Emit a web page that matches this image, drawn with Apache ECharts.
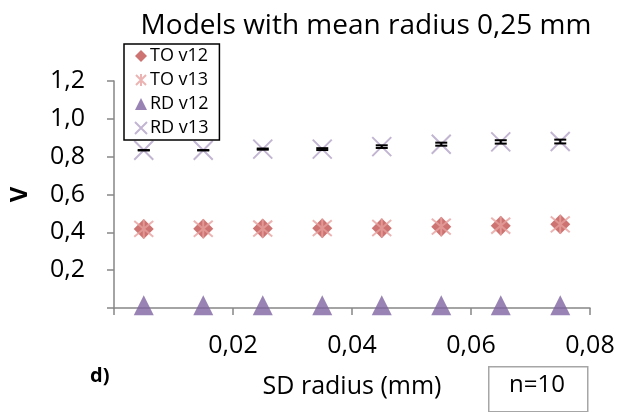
<!DOCTYPE html>
<html>
<head>
<meta charset="utf-8">
<script src="https://cdn.jsdelivr.net/npm/echarts@6/dist/echarts.min.js"></script>
<style>
  body { margin: 0; background: #fff; }
  #chart { width: 630px; height: 412px; }
</style>
</head>
<body>
<div id="chart"></div>
<script>
// x positions (SD radius, mm)
var sdRadius = [0.005, 0.015, 0.025, 0.035, 0.045, 0.055, 0.065, 0.075];
var toV12 = [0.418, 0.419, 0.420, 0.422, 0.422, 0.430, 0.435, 0.443];
var toV13 = [0.418, 0.419, 0.420, 0.422, 0.423, 0.430, 0.435, 0.442];
var rdV12 = [0.015, 0.015, 0.015, 0.015, 0.015, 0.015, 0.015, 0.015];
var rdV13 = [0.834, 0.834, 0.840, 0.840, 0.853, 0.866, 0.878, 0.880];
var rdV13Err = [0.001, 0.001, 0.003, 0.005, 0.007, 0.008, 0.009, 0.010];
var xTicks = [0.02, 0.04, 0.06, 0.08];
var yTicks = [0.2, 0.4, 0.6, 0.8, 1.0, 1.2];

var font = '"Open Sans", sans-serif';
var asterisk = 'path://M-1,-1L1,1M1,-1L-1,1M0,-1.2L0,1.2';
var cross = 'path://M-1,-1L1,1M1,-1L-1,1';

function pairs(ys) {
    return ys.map(function (y, i) { return [sdRadius[i], y]; });
}

var chart = echarts.init(document.getElementById('chart'));
var option = {
    animation: false,
    title: {
        text: 'Models with mean radius 0,25 mm',
        left: 361, top: 7, textAlign: 'center',
        textStyle: { fontFamily: font, fontSize: 28, fontWeight: 'normal', color: '#000' }
    },
    legend: {
        orient: 'vertical',
        left: 124, top: 44,
        padding: [3, 11, 3, 10],
        itemGap: 6,
        itemWidth: 12, itemHeight: 12,
        borderColor: '#000', borderWidth: 1.5,
        textStyle: { fontFamily: font, fontSize: 18, color: '#000', padding: [0, 0, 0, -2] },
        data: [
            { name: 'TO v12', icon: 'diamond' },
            { name: 'TO v13', icon: asterisk, itemStyle: { color: 'transparent', borderColor: '#E6A19F', borderWidth: 2 } },
            { name: 'RD v12', icon: 'triangle' },
            { name: 'RD v13', icon: cross, itemStyle: { color: 'transparent', borderColor: '#B3A2C7', borderWidth: 2 } }
        ]
    },
    grid: { left: 112, right: 40, top: 81, bottom: 104 },
    xAxis: {
        type: 'value', min: 0, max: 0.08, interval: 0.02,
        name: 'SD radius (mm)', nameLocation: 'middle', nameGap: 66,
        nameTextStyle: { fontFamily: font, fontSize: 25, color: '#000' },
        axisLine: { lineStyle: { color: '#868686', width: 1.5 } },
        axisTick: { show: true, length: 7, lineStyle: { color: '#868686', width: 1.5 } },
        splitLine: { show: false },
        axisLabel: {
            fontFamily: font, fontSize: 25, color: '#000', margin: 25,
            formatter: function (v) {
                return xTicks.some(function (t) { return Math.abs(t - v) < 1e-9; }) ? v.toFixed(2).replace('.', ',') : '';
            }
        }
    },
    yAxis: {
        type: 'value', min: 0, max: 1.2, interval: 0.2,
        name: 'V', nameLocation: 'middle', nameGap: 82,
        nameTextStyle: { fontFamily: font, fontSize: 24, fontWeight: 'bold', color: '#000' },
        axisLine: { show: true, lineStyle: { color: '#868686', width: 1.5 } },
        axisTick: { show: true, length: 7, lineStyle: { color: '#868686', width: 1.5 } },
        splitLine: { show: false },
        axisLabel: {
            fontFamily: font, fontSize: 25, color: '#000', margin: 29,
            formatter: function (v) {
                return yTicks.some(function (t) { return Math.abs(t - v) < 1e-9; }) ? v.toFixed(1).replace('.', ',') : '';
            }
        }
    },
    graphic: [
        { type: 'text', left: 90, top: 366, style: { text: 'd)', font: 'bold 20px ' + font, fill: '#000' } },
        { type: 'rect', left: 488, top: 366, shape: { width: 99, height: 45 }, style: { fill: '#fff', stroke: '#A6A6A6', lineWidth: 1.5 } },
        { type: 'text', left: 509, top: 373, style: { text: 'n=10', font: '24px ' + font, fill: '#000' } }
    ],
    series: [
        {
            name: 'RD v12', type: 'scatter', data: pairs(rdV12),
            symbol: 'triangle', symbolSize: [20, 20],
            itemStyle: { color: '#8064A2' }
        },
        {
            name: 'TO v12', type: 'scatter', data: pairs(toV12),
            symbol: 'diamond', symbolSize: 20,
            itemStyle: { color: '#C0504D' }
        },
        {
            name: 'TO v13', type: 'scatter', data: pairs(toV13),
            symbol: asterisk, symbolSize: 19,
            itemStyle: { color: 'transparent', borderColor: '#E6A19F', borderWidth: 2 }
        },
        {
            name: 'RD v13', type: 'scatter', data: pairs(rdV13),
            symbol: cross, symbolSize: 19,
            itemStyle: { color: 'transparent', borderColor: '#B3A2C7', borderWidth: 2 }
        },
        {
            name: 'err', type: 'custom', silent: true, z: 5,
            data: rdV13.map(function (y, i) { return [sdRadius[i], y - rdV13Err[i], y + rdV13Err[i]]; }),
            renderItem: function (params, api) {
                var lo = api.coord([api.value(0), api.value(1)]);
                var hi = api.coord([api.value(0), api.value(2)]);
                var w = 6;
                var st = { stroke: '#000', lineWidth: 2 };
                return {
                    type: 'group',
                    children: [
                        { type: 'line', shape: { x1: lo[0], y1: lo[1], x2: hi[0], y2: hi[1] }, style: st },
                        { type: 'line', shape: { x1: lo[0] - w, y1: lo[1], x2: lo[0] + w, y2: lo[1] }, style: st },
                        { type: 'line', shape: { x1: hi[0] - w, y1: hi[1], x2: hi[0] + w, y2: hi[1] }, style: st }
                    ]
                };
            }
        }
    ]
};
chart.setOption(option);
</script>
</body>
</html>
